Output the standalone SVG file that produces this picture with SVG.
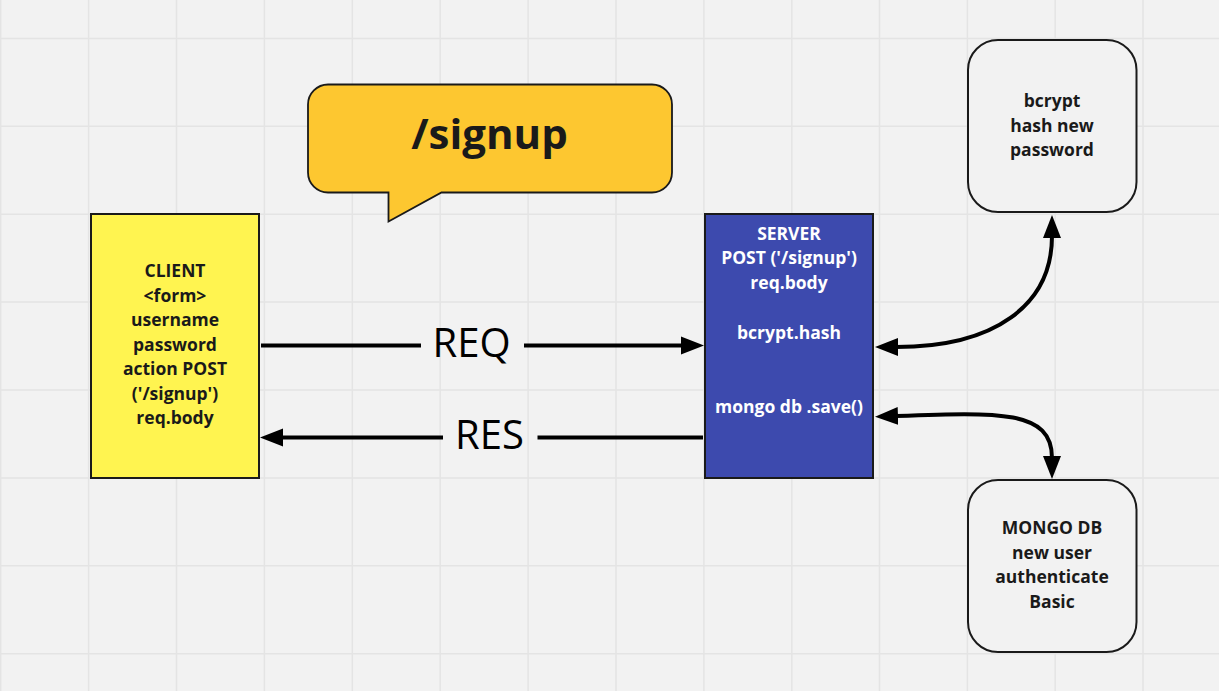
<svg xmlns="http://www.w3.org/2000/svg" width="1219" height="691" viewBox="0 0 1219 691">
  <style>
    .grid { stroke: #e4e4e4; stroke-width: 1.5; fill: none; }
    .lbl { font-family: "Open Sans", "Liberation Sans", sans-serif; font-weight: 700; font-size: 17.5px; fill: #1a1a1a; text-anchor: middle; }
    .lbl-w { fill: #ffffff; }
    .conn { stroke: #000000; stroke-width: 4; fill: none; }
    .conn-lbl { font-family: "Open Sans", "Liberation Sans", sans-serif; font-weight: 400; font-size: 40px; fill: #000000; text-anchor: middle; }
    .box { stroke: #1a1a1a; stroke-width: 2; }
  </style>
  <defs>
    <marker id="arr" markerUnits="userSpaceOnUse" viewBox="0 0 24 20" markerWidth="24" markerHeight="20" refX="2" refY="10" orient="auto-start-reverse">
      <path d="M0,1 L23,10 L0,19 Z" fill="#000000"/>
    </marker>
  </defs>
  <rect x="0" y="0" width="1219" height="691" fill="#f2f2f2"/>
  <path class="grid" d="M0.7,0 V691 M88.6,0 V691 M176.5,0 V691 M264.4,0 V691 M352.3,0 V691 M440.2,0 V691 M528.1,0 V691 M616,0 V691 M703.9,0 V691 M791.8,0 V691 M879.5,0 V691 M967.4,0 V691 M1055.2,0 V691 M1143,0 V691 M0,38.4 H1219 M0,126.3 H1219 M0,214.2 H1219 M0,302.1 H1219 M0,390 H1219 M0,477.9 H1219 M0,565.8 H1219 M0,653.7 H1219"/>

  <g id="bubble">
    <path d="M328,84.5 H652 A20,20 0 0 1 672,104.5 V172.5 A20,20 0 0 1 652,192.5 H441.5 L388.5,221.5 V192.5 H328 A20,20 0 0 1 308,172.5 V104.5 A20,20 0 0 1 328,84.5 Z" fill="#fdc730" stroke="#1a1a1a" stroke-width="1.8"/>
    <text x="489.5" y="149" font-family="Open Sans, Liberation Sans, sans-serif" font-weight="700" font-size="42" fill="#1a1a1a" text-anchor="middle">/signup</text>
  </g>

  <g id="client">
    <rect class="box" x="91" y="214" width="168" height="264" fill="#fff450"/>
    <text class="lbl" x="175" y="277">CLIENT</text>
    <text class="lbl" x="175" y="301.5">&lt;form&gt;</text>
    <text class="lbl" x="175" y="326">username</text>
    <text class="lbl" x="175" y="350.5">password</text>
    <text class="lbl" x="175" y="375">action POST</text>
    <text class="lbl" x="175" y="399.5">('/signup')</text>
    <text class="lbl" x="175" y="424">req.body</text>
  </g>

  <g id="server">
    <rect class="box" x="705" y="214" width="168" height="264" fill="#3d4aae"/>
    <text class="lbl lbl-w" x="789" y="239.5">SERVER</text>
    <text class="lbl lbl-w" x="789" y="264">POST ('/signup')</text>
    <text class="lbl lbl-w" x="789" y="288.5">req.body</text>
    <text class="lbl lbl-w" x="789" y="339">bcrypt.hash</text>
    <text class="lbl lbl-w" x="789" y="413">mongo db .save()</text>
  </g>

  <g id="bcrypt">
    <rect class="box" x="968" y="40" width="168.5" height="172" rx="30" ry="30" fill="#f2f2f2"/>
    <text class="lbl" x="1052" y="107">bcrypt</text>
    <text class="lbl" x="1052" y="131.5">hash new</text>
    <text class="lbl" x="1052" y="156">password</text>
  </g>

  <g id="mongodb">
    <rect class="box" x="968" y="480" width="168.5" height="172" rx="30" ry="30" fill="#f2f2f2"/>
    <text class="lbl" x="1052" y="534">MONGO DB</text>
    <text class="lbl" x="1052" y="558.5">new user</text>
    <text class="lbl" x="1052" y="583">authenticate</text>
    <text class="lbl" x="1052" y="607.5">Basic</text>
  </g>

  <g id="connectors">
    <path class="conn" d="M261,345.5 H421"/>
    <path class="conn" d="M524,345.5 H683" marker-end="url(#arr)"/>
    <text class="conn-lbl" x="471.5" y="357">REQ</text>
    <path class="conn" d="M703,437.5 H537.5"/>
    <path class="conn" d="M443,437.5 H281" marker-end="url(#arr)"/>
    <text class="conn-lbl" x="489.5" y="448.5">RES</text>
    <path class="conn" d="M896,347 C995,347 1052,305 1052,236" marker-start="url(#arr)" marker-end="url(#arr)"/>
    <path class="conn" d="M896,416 C1000,412 1052,410 1052,458" marker-start="url(#arr)" marker-end="url(#arr)"/>
  </g>
</svg>
